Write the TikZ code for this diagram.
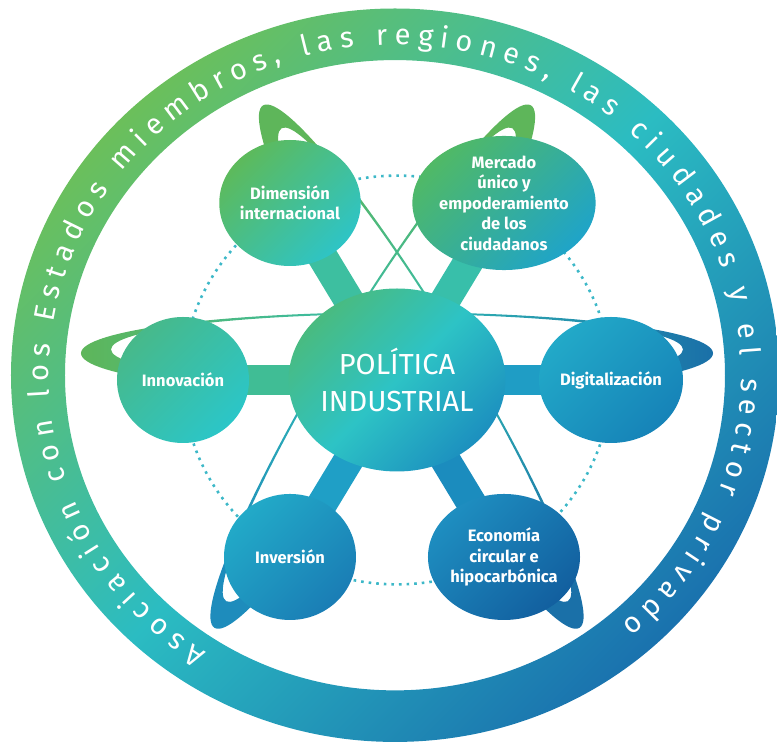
\documentclass[tikz,border=0pt]{standalone}
\usepackage{fontspec}
\setmainfont{Fira Sans}
\newfontfamily\ringfont{Fira Sans}
\usetikzlibrary{shapes.geometric,decorations.text,backgrounds}

\definecolor{ringgreen}{HTML}{6BBF5B}
\definecolor{ringcyan}{HTML}{2BBCC2}
\definecolor{ringblue}{HTML}{1A72AE}
\definecolor{dotcol}{HTML}{3DB8C8}
\definecolor{orbgreen}{HTML}{5EB65A}
\definecolor{orbteal}{HTML}{33BDB4}
\definecolor{orbblue}{HTML}{1A70A8}
\definecolor{orbmid}{HTML}{1E8CBC}
\definecolor{polA}{HTML}{49BB80}
\definecolor{polB}{HTML}{2DC3C5}
\definecolor{polC}{HTML}{1C90BF}
\definecolor{dimA}{HTML}{5DBA5B}
\definecolor{dimB}{HTML}{2EC4C6}
\definecolor{merA}{HTML}{50B966}
\definecolor{merB}{HTML}{1FA4C8}
\definecolor{innA}{HTML}{47B98A}
\definecolor{innB}{HTML}{2BC6C8}
\definecolor{digA}{HTML}{22A9C8}
\definecolor{digB}{HTML}{1683B8}
\definecolor{invA}{HTML}{22AAC8}
\definecolor{invB}{HTML}{1A7DB5}
\definecolor{ecoA}{HTML}{1E8EC0}
\definecolor{ecoB}{HTML}{125F9F}
\definecolor{barDim}{HTML}{3DBFA0}
\definecolor{barMer}{HTML}{38BFAA}
\definecolor{barInn}{HTML}{40BD95}
\definecolor{barDig}{HTML}{1F9DC5}
\definecolor{barInv}{HTML}{1F9FC6}
\definecolor{barEco}{HTML}{1B8CBE}

\tikzset{
  sat/.style={ellipse, minimum width=132pt, minimum height=126pt, inner sep=0pt,
    text=white, align=center, font=\bfseries\fontsize{16.5}{20.5}\selectfont},
  core/.style={ellipse, minimum width=192pt, minimum height=183pt, inner sep=0pt,
    text=white, align=center, font=\fontsize{29}{37}\selectfont},
  tint/.style 2 args={top color=#1, bottom color=#2, shading angle=45},
  spoke/.style={line width=30pt},
  dotring/.style={draw=dotcol, line width=2.6pt, dash pattern=on 2.6pt off 5pt},
  orbit/.style={even odd rule},
}

\begin{document}
\begin{tikzpicture}[x=1pt, y=1pt, yscale=0.955]
\useasboundingbox (-397,-379.1) rectangle (380,397.9);

% outer ring with the partnership text
\shade[even odd rule, top color=ringgreen, bottom color=ringblue, middle color=ringcyan, shading angle=45]
  (-2,5) circle[radius=384] (-2,5) circle[radius=330];
\path[decorate, decoration={text along path, text align=fit to path,
    text={|\ringfont\fontsize{29}{29}\selectfont\color{white}|Asociación con los Estados miembros, las regiones, las ciudades y el sector privado}}]
  (-2,5) ++(237:346) arc[start angle=237, end angle=-49, radius=346];

% hub and the six pillars
\node[core, top color=polA, bottom color=polC, middle color=polB, shading angle=45] (pol) at (0,0) {POLÍTICA\\INDUSTRIAL};
\node[sat, tint={dimA}{dimB}] (dim) at (120:214) {Dimensión\\internacional};
\node[sat, tint={merA}{merB}] (mer) at (60:214) {Mercado\\único y\\empoderamiento\\de los\\ciudadanos};
\node[sat, tint={innA}{innB}] (inn) at (180:214) {Innovación};
\node[sat, tint={digA}{digB}] (dig) at (0:214) {Digitalización};
\node[sat, tint={invA}{invB}] (inv) at (240:214) {Inversión};
\node[sat, tint={ecoA}{ecoB}] (eco) at (300:214) {Economía\\circular e\\hipocarbónica};

\begin{pgfonlayer}{background}
  \draw[dotring] (pol.center) circle[radius=214];
  % orbits
  \shade[orbit, top color=orbgreen, bottom color=orbblue, middle color=orbteal, shading angle=90]
    (0,28) ellipse[x radius=316, y radius=43] (0,32) ellipse[x radius=286, y radius=37];
  \begin{scope}[rotate=60]
    \shade[orbit, top color=orbgreen, bottom color=orbmid, middle color=orbteal, shading angle=-30]
      (0,28) ellipse[x radius=316, y radius=43] (0,32) ellipse[x radius=286, y radius=37];
  \end{scope}
  \begin{scope}[rotate=-60]
    \shade[orbit, top color=orbgreen, bottom color=orbblue, middle color=orbteal, shading angle=30]
      (0,28) ellipse[x radius=316, y radius=43] (0,32) ellipse[x radius=286, y radius=37];
  \end{scope}
  % spokes
  \draw[spoke, draw=barDim] (pol.center) -- (dim.center);
  \draw[spoke, draw=barMer] (pol.center) -- (mer.center);
  \draw[spoke, draw=barInn] (pol.center) -- (inn.center);
  \draw[spoke, draw=barDig] (pol.center) -- (dig.center);
  \draw[spoke, draw=barInv] (pol.center) -- (inv.center);
  \draw[spoke, draw=barEco] (pol.center) -- (eco.center);
\end{pgfonlayer}
\end{tikzpicture}
\end{document}
